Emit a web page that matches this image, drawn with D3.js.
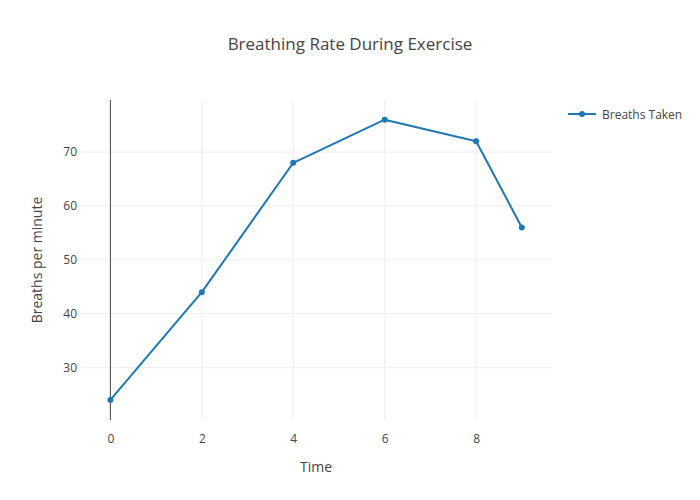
<!DOCTYPE html>
<html><head><meta charset="utf-8">
<script src="https://cdn.jsdelivr.net/npm/d3@7"></script>
<style>body{margin:0;background:#fff}text{font-family:"Open Sans",sans-serif}</style>
</head><body><svg id="c" width="700" height="500"></svg>
<script>
const times = [0, 2, 4, 6, 8, 9];
const breaths = [24, 44, 68, 76, 72, 56];
const xTicks = [0, 2, 4, 6, 8];
const yTicks = [30, 40, 50, 60, 70];
const seriesName = "Breaths Taken";
const title = "Breathing Rate During Exercise";
const xTitle = "Time";
const yTitle = "Breaths per minute";

const svg = d3.select("#c");
const L = 80, R = 552, T = 100, B = 420;
const x = d3.scaleLinear().domain([-0.665, 9.66]).range([L, R]);
const y = d3.scaleLinear().domain([20.28, 79.65]).range([B, T]);
const col = "#1f77b4", txt = "#444";

const g = svg.append("g");
g.selectAll(".gx").data(xTicks.filter(d => d !== 0)).enter().append("line")
  .attr("x1", d => x(d)).attr("x2", d => x(d)).attr("y1", T).attr("y2", B)
  .attr("stroke", "#eee").attr("stroke-width", 1);
g.selectAll(".gy").data(yTicks).enter().append("line")
  .attr("x1", L).attr("x2", R).attr("y1", d => y(d)).attr("y2", d => y(d))
  .attr("stroke", "#eee").attr("stroke-width", 1);
g.append("line").attr("x1", x(0)).attr("x2", x(0)).attr("y1", T).attr("y2", B)
  .attr("stroke", txt).attr("stroke-width", 1);

const xa = svg.append("g").attr("transform", `translate(0,${B})`)
  .call(d3.axisBottom(x).tickValues(xTicks).tickSize(0).tickPadding(14));
xa.select(".domain").remove();
xa.selectAll("text").attr("fill", txt).style("font-size", "12px").style("font-family", '"Open Sans",sans-serif');
const ya = svg.append("g").attr("transform", `translate(${L},0)`)
  .call(d3.axisLeft(y).tickValues(yTicks).tickSize(0).tickPadding(3));
ya.select(".domain").remove();
ya.selectAll("text").attr("fill", txt).style("font-size", "12px").style("font-family", '"Open Sans",sans-serif');

const line = d3.line().x((d, i) => x(times[i])).y(d => y(d));
svg.append("path").datum(breaths).attr("d", line).attr("fill", "none")
  .attr("stroke", col).attr("stroke-width", 2).attr("stroke-linejoin", "round");
svg.selectAll(".pt").data(breaths).enter().append("circle")
  .attr("cx", (d, i) => x(times[i])).attr("cy", d => y(d)).attr("r", 3).attr("fill", col);

svg.append("text").attr("x", 350).attr("y", 50).attr("text-anchor", "middle")
  .attr("fill", txt).style("font-size", "17px").text(title);
svg.append("text").attr("x", (L + R) / 2).attr("y", 472).attr("text-anchor", "middle")
  .attr("fill", txt).style("font-size", "14px").text(xTitle);
svg.append("text").attr("transform", `translate(42,${(T + B) / 2}) rotate(-90)`)
  .attr("text-anchor", "middle").attr("fill", txt).style("font-size", "14px").text(yTitle);

const lg = svg.append("g").attr("transform", "translate(568,114)");
lg.append("line").attr("x1", 0).attr("x2", 28).attr("stroke", col).attr("stroke-width", 2);
lg.append("circle").attr("cx", 14).attr("r", 3).attr("fill", col);
lg.append("text").attr("x", 34).attr("y", 4.5).attr("fill", txt).style("font-size", "12px").text(seriesName);
</script></body></html>
